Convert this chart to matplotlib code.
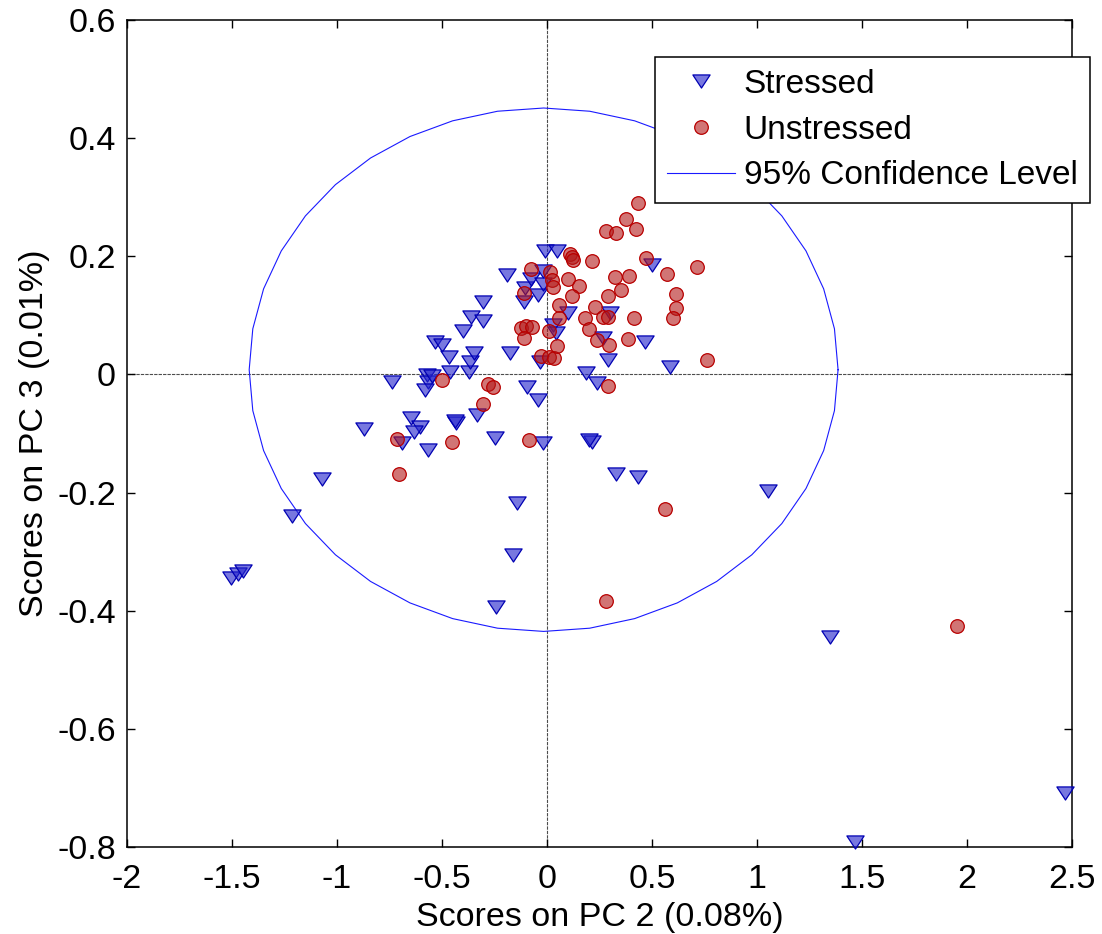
import numpy as np
import matplotlib
matplotlib.use("Agg")
import matplotlib.pyplot as plt
from matplotlib.path import Path

plt.rcParams['font.family'] = ['Liberation Sans', 'DejaVu Sans']

# PC2 / PC3 scores, stressed samples
stressed_pc2 = [-1.505, -1.471, -1.448, -1.214, -1.071, -0.871, -0.738, -0.648, -0.605, -0.633,
                -0.690, -0.567, -0.433, -0.438, -0.333, -0.248, -0.571, -0.567, -0.581, -0.548,
                -0.462, -0.371, -0.367, -0.348, -0.533, -0.500, -0.467, -0.400, -0.362, -0.305,
                -0.305, -0.176, -0.190, -0.105, -0.076, -0.110, -0.043, -0.010, 0.048, -0.019,
                -0.019, -0.033, -0.095, -0.043, -0.019, -0.143, -0.162, -0.243, 0.100, 0.029,
                0.043, 0.300, 0.267, 0.467, 0.290, 0.186, 0.238, 0.500, 0.586, 0.214,
                0.200, 0.329, 0.433, 1.052, 1.348, 1.467, 2.467]
stressed_pc3 = [-0.345, -0.338, -0.333, -0.240, -0.177, -0.092, -0.013, -0.074, -0.089, -0.098,
                -0.116, -0.128, -0.082, -0.079, -0.069, -0.108, -0.001, -0.013, -0.026, -0.003,
                0.004, 0.004, 0.021, 0.036, 0.055, 0.050, 0.029, 0.073, 0.097, 0.090,
                0.123, 0.036, 0.168, 0.146, 0.162, 0.123, 0.134, 0.209, 0.209, 0.175,
                0.153, 0.021, -0.021, -0.043, -0.116, -0.218, -0.306, -0.394, 0.104, 0.084,
                0.070, 0.104, 0.062, 0.055, 0.024, 0.002, -0.015, 0.185, 0.013, -0.114,
                -0.111, -0.169, -0.174, -0.197, -0.445, -0.792, -0.709]

# PC2 / PC3 scores, unstressed samples
unstressed_pc2 = [-0.705, -0.714, -0.500, -0.452, -0.305, -0.281, -0.257, -0.086, -0.076, -0.110,
                  -0.124, -0.100, -0.071, -0.110, -0.029, 0.010, 0.010, 0.033, 0.048, 0.057,
                  0.057, 0.014, 0.024, 0.029, 0.100, 0.110, 0.119, 0.124, 0.152, 0.119,
                  0.214, 0.281, 0.329, 0.376, 0.433, 0.424, 0.324, 0.390, 0.352, 0.290,
                  0.181, 0.229, 0.267, 0.290, 0.200, 0.238, 0.295, 0.386, 0.414, 0.471,
                  0.571, 0.714, 0.614, 0.614, 0.600, 0.762, 0.290, 0.562, 0.281, 1.952]
unstressed_pc3 = [-0.169, -0.109, -0.009, -0.114, -0.050, -0.016, -0.021, -0.111, 0.178, 0.138,
                  0.079, 0.082, 0.080, 0.062, 0.031, 0.073, 0.029, 0.028, 0.048, 0.117,
                  0.095, 0.173, 0.160, 0.148, 0.162, 0.204, 0.199, 0.194, 0.150, 0.133,
                  0.192, 0.243, 0.239, 0.263, 0.290, 0.246, 0.165, 0.167, 0.143, 0.133,
                  0.095, 0.114, 0.097, 0.097, 0.077, 0.058, 0.050, 0.060, 0.095, 0.197,
                  0.170, 0.182, 0.136, 0.112, 0.095, 0.024, -0.020, -0.228, -0.384, -0.426]

# 95% confidence ellipse (centre and semi-axes in score units)
ellipse_center = (-0.016, 0.008)
ellipse_semi_axes = (1.402, 0.443)

x_ticks = [-2, -1.5, -1, -0.5, 0, 0.5, 1, 1.5, 2, 2.5]
y_ticks = [-0.8, -0.6, -0.4, -0.2, 0, 0.2, 0.4, 0.6]

fig = plt.figure(figsize=(11.02, 9.34), dpi=100)
ax = fig.add_axes([0.1152, 0.0931, 0.8576, 0.8855])

# reference lines through the origin
ax.axhline(0, color='0.3', lw=0.8, ls=(0, (3, 1)), zorder=1)
ax.axvline(0, color='0.3', lw=0.8, ls=(0, (3, 1)), zorder=1)

# wide, downward-pointing triangle
tri = Path([(-1, 0.76), (1, 0.76), (0, -0.76), (-1, 0.76)],
           [Path.MOVETO, Path.LINETO, Path.LINETO, Path.CLOSEPOLY])

ax.plot(stressed_pc2, stressed_pc3, linestyle='none', marker=tri, ms=12.4,
        mfc=(0.15, 0.15, 0.8, 0.62), mec=(0.0, 0.0, 0.7), mew=0.9,
        label='Stressed', zorder=3, clip_on=False)
ax.plot(unstressed_pc2, unstressed_pc3, linestyle='none', marker='o', ms=9.8,
        mfc=(0.7, 0.1, 0.1, 0.6), mec=(0.72, 0.0, 0.0), mew=0.9,
        label='Unstressed', zorder=4, clip_on=False)

t = np.linspace(0, 2 * np.pi, 41)
ax.plot(ellipse_center[0] + ellipse_semi_axes[0] * np.cos(t),
        ellipse_center[1] + ellipse_semi_axes[1] * np.sin(t),
        color=(0.1, 0.1, 1.0), lw=0.8, label='95% Confidence Level', zorder=2)

ax.set_xlim(-2, 2.5)
ax.set_ylim(-0.8, 0.6)
ax.set_xticks(x_ticks)
ax.set_xticklabels(['-2', '-1.5', '-1', '-0.5', '0', '0.5', '1', '1.5', '2', '2.5'])
ax.set_yticks(y_ticks)
ax.set_yticklabels(['-0.8', '-0.6', '-0.4', '-0.2', '0', '0.2', '0.4', '0.6'])
ax.tick_params(direction='in', length=6, width=1.0, top=True, right=True,
               labelsize=24.5)
ax.tick_params(axis='x', pad=12)
ax.tick_params(axis='y', pad=8)
for s in ax.spines.values():
    s.set_linewidth(1.1)

ax.set_xlabel('Scores on PC 2 (0.08%)', fontsize=24.5, labelpad=5)
ax.set_ylabel('Scores on PC 3 (0.01%)', fontsize=24.5, labelpad=5)

leg = ax.legend(loc='upper left', bbox_to_anchor=(0.5587, 0.9553), borderaxespad=0,
                fontsize=24, numpoints=1, handlelength=2.05, handletextpad=0.25,
                labelspacing=0.44, borderpad=0.36, fancybox=False, framealpha=1,
                edgecolor='black')
leg.get_frame().set_linewidth(1.1)

fig.savefig('out.png', dpi=100)
